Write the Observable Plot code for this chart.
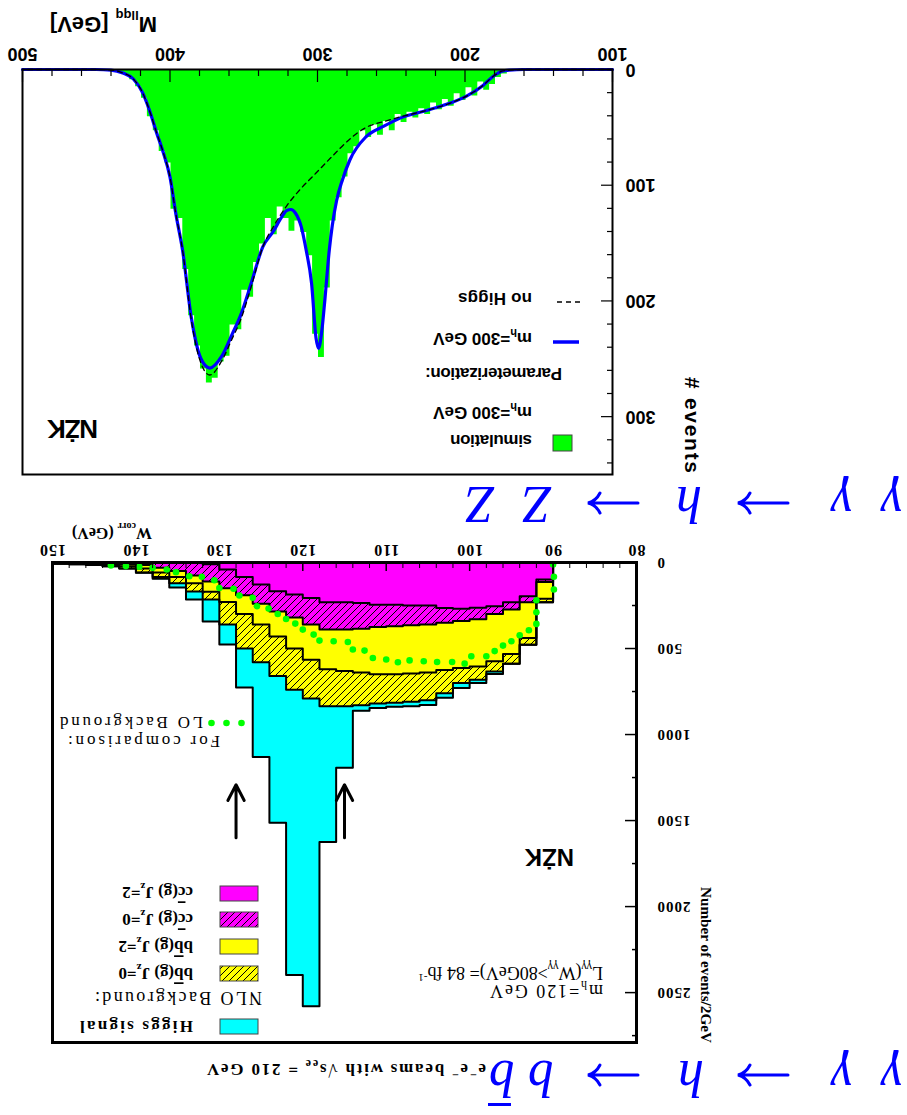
<!DOCTYPE html>
<html>
<head>
<meta charset="utf-8">
<script src="https://cdn.jsdelivr.net/npm/d3@7"></script>
<script src="https://cdn.jsdelivr.net/npm/@observablehq/plot@0.6"></script>
<style>
html,body{margin:0;padding:0;background:#fff;}
#root{position:relative;width:907px;height:1115px;overflow:hidden;background:#fff;transform:rotate(180deg);transform-origin:453.5px 557.5px;}
.panel{position:absolute;left:0;}
#ov{position:absolute;left:0;top:0;}
</style>
</head>
<body>
<div id="root">
  <div id="bb" class="panel" style="top:0px"></div>
  <div id="zz" class="panel" style="top:580px"></div>
  <svg id="ov" width="907" height="1115">
    <defs>
      <pattern id="hatchM" patternUnits="userSpaceOnUse" width="7" height="7">
        <rect width="7" height="7" fill="#ff00ff"/>
        <path d="M0,7 L7,0 M-1,1 L1,-1 M6,8 L8,6" stroke="#000" stroke-width="1"/>
      </pattern>
      <pattern id="hatchY" patternUnits="userSpaceOnUse" width="7" height="7">
        <rect width="7" height="7" fill="#ffff00"/>
        <path d="M0,7 L7,0 M-1,1 L1,-1 M6,8 L8,6" stroke="#000" stroke-width="1"/>
      </pattern>
    </defs>
    <!-- process titles -->
    <g fill="#0000ff" font-family="Liberation Serif" font-style="italic" font-size="52">
      <text x="5" y="54">γ</text><text x="55" y="54">γ</text>
      <text x="203" y="54">h</text>
      <text x="353" y="54">b</text><text x="392" y="54">b</text>
      <text x="5" y="628">γ</text><text x="55" y="628">γ</text>
      <text x="205" y="628">h</text>
      <text x="355" y="628">Z</text><text x="412" y="628">Z</text>
    </g>
    <rect x="396" y="9" width="23" height="3" fill="#0000ff"/>
    <g stroke="#0000ff" stroke-width="3" fill="none" stroke-linecap="round">
      <path d="M119,40 H168 M157,30 Q161,38 169,40 Q161,42 157,50"/>
      <path d="M269,40 H318 M307,30 Q311,38 319,40 Q311,42 307,50"/>
      <path d="M119,612 H168 M157,602 Q161,610 169,612 Q161,614 157,622"/>
      <path d="M269,612 H318 M307,602 Q311,610 319,612 Q311,614 307,622"/>
    </g>
    <!-- bb panel texts -->
    <g font-family="Liberation Serif" fill="#000">
      <text x="421" y="51" font-weight="bold" font-size="17" textLength="279" lengthAdjust="spacing">e<tspan dy="-7" font-size="12">−</tspan><tspan dy="7">e</tspan><tspan dy="-7" font-size="12">−</tspan><tspan dy="7"> beams with √s</tspan><tspan dy="4" font-size="12">ee</tspan><tspan dy="-4"> = 210 GeV</tspan></text>
      <text x="755" y="587" font-weight="bold" font-size="16">W<tspan dy="5" font-size="10">corr</tspan><tspan dy="-5"> (GeV)</tspan></text>
      <text transform="translate(206,72) rotate(-90)" text-anchor="end" font-weight="bold" font-size="15" textLength="156" lengthAdjust="spacingAndGlyphs">Number of events/2GeV</text>
      <text x="304" y="130" font-size="18" textLength="113">m<tspan dy="4" font-size="12">h</tspan><tspan dy="-4">=120 GeV</tspan></text>
      <text x="304" y="148" font-size="18">L<tspan dy="4" font-size="12">γγ</tspan><tspan dy="-4">(W</tspan><tspan dy="4" font-size="12">γγ</tspan><tspan dy="-4">&gt;80GeV)= 84 fb</tspan><tspan dy="-7" font-size="11">-1</tspan></text>
      <text x="687" y="379" font-size="17" textLength="152">For comparison:</text>
      <text x="704" y="398" font-size="17" textLength="143">LO Background</text>
      <text x="645" y="123" font-size="18" textLength="167">NLO Background:</text>
      <g font-weight="bold" font-size="17">
        <text x="714" y="94" textLength="113">Higgs signal</text>
        <text x="714" y="147">b<tspan text-decoration="overline">b</tspan>(g) J<tspan dy="4" font-size="11">z</tspan><tspan dy="-4">=0</tspan></text>
        <text x="714" y="174">b<tspan text-decoration="overline">b</tspan>(g) J<tspan dy="4" font-size="11">z</tspan><tspan dy="-4">=2</tspan></text>
        <text x="714" y="201">c<tspan text-decoration="overline">c</tspan>(g)  J<tspan dy="4" font-size="11">z</tspan><tspan dy="-4">=0</tspan></text>
        <text x="714" y="228">c<tspan text-decoration="overline">c</tspan>(g)  J<tspan dy="4" font-size="11">z</tspan><tspan dy="-4">=2</tspan></text>
      </g>
    </g>
    <g stroke="#444" stroke-width="1">
      <rect x="649" y="81" width="38" height="15" fill="#00ffff"/>
      <rect x="649" y="134" width="38" height="15" fill="url(#hatchY)"/>
      <rect x="649" y="161" width="38" height="15" fill="#ffff00"/>
      <rect x="649" y="188" width="38" height="15" fill="url(#hatchM)"/>
      <rect x="649" y="214" width="38" height="15" fill="#ff00ff"/>
    </g>
    <g fill="#00ff00">
      <circle cx="665.5" cy="392" r="3.3"/><circle cx="680.5" cy="392" r="3.3"/><circle cx="695.5" cy="392" r="3.3"/>
    </g>
    <text x="333" y="266" font-family="Liberation Sans" font-weight="bold" font-size="24">NŻK</text>
    <!-- ZZ panel texts -->
    <g font-family="Liberation Sans" font-weight="bold" fill="#000">
      <text transform="translate(222,642) rotate(-90)" text-anchor="end" font-size="21" textLength="96">#  events</text>
      <text x="750" y="1098" font-size="22">M<tspan dy="6" font-size="13">llqq</tspan><tspan dy="-6" dx="7">[GeV]</tspan></text>
      <text x="809" y="695" font-size="26" textLength="51">NŻK</text>
      <g font-size="17">
        <text x="375" y="680" textLength="82">simulation</text>
        <text x="375" y="708">m<tspan dy="4" font-size="11">h</tspan><tspan dy="-4">=300 GeV</tspan></text>
        <text x="345" y="747" textLength="137">Parameterization:</text>
        <text x="375" y="782">m<tspan dy="4" font-size="11">h</tspan><tspan dy="-4">=300 GeV</tspan></text>
        <text x="375" y="822" textLength="74">no Higgs</text>
      </g>
    </g>
    <rect x="335" y="664" width="19" height="16" fill="#00ff00" stroke="#444" stroke-width="1"/>
    <line x1="328" x2="354" y1="773" y2="773" stroke="#0000ff" stroke-width="3.5"/>
    <line x1="327" x2="354" y1="813" y2="813" stroke="#000" stroke-width="1.5" stroke-dasharray="5,4"/>
  </svg>
</div>
<script>
// ================= Panel 1 : γγ → h → b b̄  (W_corr histogram, 2 GeV bins) =================
const bbBinLeft = [90,92,94,96,98,100,102,104,106,108,110,112,114,116,118,120,122,124,126,128,130,132,134,136,138,140,142,144,146,148];
const bbBinWidth = 2;
const ccJz2 = [99,196,231,254,263,269,265,250,250,245,245,235,231,231,206,186,167,128,85,40,10,0,0,0,0,0,0,0,0,0];
const ccJz0 = [15,35,42,46,67,71,85,110,115,125,130,150,159,159,155,134,118,112,105,110,100,75,50,31,15,10,6,4,3,2];
const bbJz2 = [97,208,259,274,274,273,275,280,280,280,275,255,240,230,204,180,145,120,110,80,60,45,35,27,20,12,8,5,3,2];
const bbJz0 = [20,39,56,59,77,87,135,160,165,165,170,190,206,216,225,240,230,220,200,130,45,49,35,27,23,13,8,6,4,3];
const higgs = [0,0,0,15,19,29,26,28,25,24,26,32,357,788,1790,1658,853,550,227,117,128,46,25,10,2,0,0,0,0,0];
const bbXTicks = [80,90,100,110,120,130,140,150];
const bbXMinor = [82,84,86,88,92,94,96,98,102,104,106,108,112,114,116,118,122,124,126,128,132,134,136,138,142,144,146,148];
const bbYTicks = [0,500,1000,1500,2000,2500];
const bbYMinor = [250,750,1250,1750,2250,2750];
// LO background (dotted)
const loW = [90.0,89.9,89.9,92.0,92.0,92.0,92.9,94.0,95.0,96.0,97.0,98.0,99.8,100.6,102.1,103.9,105.5,107.2,108.6,110.0,111.6,112.6,114.0,114.6,116.3,118.0,118.7,120.0,120.9,122.0,123.0,124.1,125.5,126.0,127.6,128.3,130.0,130.6,132.1,133.6,135.2,136.3,138.0,139.6,141.2,143.0];
const loN = [12,83,157,219,289,357,394,423,458,483,515,545,545,588,578,578,574,569,580,564,555,512,506,462,458,454,419,390,355,328,299,268,254,205,192,153,148,103,83,80,56,41,31,25,21,17];
// mass window arrows
const windowW = [115, 128];
const arrowFrom = 1600, arrowTo = 1292;

// ================= Panel 2 : γγ → h → ZZ =================
const zzBinLeft = [168,172,176,180,184,188,192,196,200,204,208,212,216,220,224,228,232,236,240,244,248,252,256,260,264,268,272,276,280,284,288,292,296,300,304,308,312,316,320,324,328,332,336,340,344,348,352,356,360,364,368,372,376,380,384,388,392,396,400,404,408,412,416,420,424,428,432,436];
const zzBinWidth = 4;
const zzSim = [0,3,6,12,17,10,22,15,26,20,31,25,34,28,38,33,41,36,45,38,52,44,56,47,58,52,66,72,92,110,130,188,248,228,160,140,130,139,128,118,142,128,150,166,196,190,224,220,247,252,266,270,258,238,212,172,128,120,80,70,52,40,24,14,8,4,2,0];
const fitM = [100,160,170,175,181,188,199,210,225,244,255,267,278,283,287,290,292,295,297,299.3,301,304,307.7,311,315,318,321,324,330,337,345,352,357.6,365,373,379,385.6,391.5,396,400,405,409,414,418.6,425,432,440,450,500];
const fitN = [0,0,0.5,1.5,6,14,23,29,35,42,49,58,78,95,113,135,156,199,225,241,232,185,156,136,124,121,122,127,140,153,185,212,228,248,258,250,214,156,125,93,70,55,35,20,8,3,0.5,0,0];
const noHiggsM = [100,160,170,175,181,188,199,210,225,244,255,267,278,290,301,312,321,330,337,345,352,358,365,373,379,385.6,391.5,396,400,405,409,414,418.6,425,432,440,450,500];
const noHiggsN = [0,0,0.5,1.5,6,14,23,29,35,41,45,50,60,75,89.5,104,118,136,153,188,216,233,252,264,254,216,156,125,93,70,55,35,20,8,3,0.5,0,0];
const zzXTicks = [100,200,300,400,500];
const zzXMinor = [120,140,160,180,220,240,260,280,320,340,360,380,420,440,460,480];
const zzYTicks = [0,100,200,300];
const zzYMinor = [20,40,60,80,120,140,160,180,220,240,260,280,320,340];

const intFmt = d3.format("d");

// ---------- build panel 1 ----------
const PH_M = "#fe01fe", PH_Y = "#fefe01"; // placeholders replaced by hatch patterns
const layers = [
  {vals: ccJz2, fill: "#ff00ff"},
  {vals: ccJz0, fill: PH_M},
  {vals: bbJz2, fill: "#ffff00"},
  {vals: bbJz0, fill: PH_Y},
  {vals: higgs, fill: "#00ffff"}
];
const cum = bbBinLeft.map(() => 0);
const areaMarks = [], lineMarks = [];
for (const L of layers) {
  const pts = [];
  bbBinLeft.forEach((x0, i) => {
    const lo = cum[i], hi = cum[i] + L.vals[i];
    pts.push({x: x0, y1: lo, y2: hi}, {x: x0 + bbBinWidth, y1: lo, y2: hi});
    cum[i] = hi;
  });
  areaMarks.push(Plot.areaY(pts, {x: "x", y1: "y1", y2: "y2", fill: L.fill}));
  const outline = [{x: pts[0].x, y2: 0}, ...pts, {x: pts[pts.length - 1].x, y2: 0}];
  lineMarks.push(Plot.line(outline, {x: "x", y: "y2", stroke: "black", strokeWidth: 2}));
}
const loData = loW.map((w, i) => ({w, n: loN[i]}));
const arrowData = windowW.map(w => ({w}));

const bbPlot = Plot.plot({
  width: 907, height: 610,
  marginLeft: 270, marginRight: 53, marginTop: 72, marginBottom: 58,
  x: {domain: [80, 150], label: null},
  y: {domain: [0, 2790], label: null},
  style: {fontFamily: "Liberation Serif", fontWeight: "bold", fontSize: "15px", letterSpacing: "1px", color: "black", background: "transparent", overflow: "visible"},
  marks: [
    ...areaMarks,
    ...lineMarks,
    Plot.dot(loData, {x: "w", y: "n", r: 3.3, fill: "#00ff00"}),
    Plot.arrow(arrowData, {x1: "w", x2: "w", y1: () => arrowFrom, y2: () => arrowTo, stroke: "black", strokeWidth: 3, headLength: 13, headAngle: 55}),
    Plot.frame({stroke: "black", strokeWidth: 3}),
    Plot.axisX(bbXTicks, {tickSize: -8, fill: "none", strokeWidth: 1.5, label: null}),
    Plot.axisX(bbXMinor, {tickSize: -5, fill: "none", strokeWidth: 1, label: null}),
    Plot.axisX(bbXTicks, {tickSize: 0, tickPadding: 6, label: null, tickFormat: intFmt, fontSize: 16}),
    Plot.axisY(bbYTicks, {tickSize: -12, fill: "none", strokeWidth: 1.5, label: null}),
    Plot.axisY(bbYMinor, {tickSize: -5, fill: "none", strokeWidth: 1.5, label: null}),
    Plot.axisY(bbYTicks, {tickSize: 0, tickPadding: 20, label: null, tickFormat: intFmt})
  ]
});
bbPlot.querySelectorAll(`[fill="${PH_M}"]`).forEach(el => el.setAttribute("fill", "url(#hatchM)"));
bbPlot.querySelectorAll(`[fill="${PH_Y}"]`).forEach(el => el.setAttribute("fill", "url(#hatchY)"));
document.getElementById("bb").appendChild(bbPlot);

// ---------- build panel 2 ----------
const simPts = [];
zzBinLeft.forEach((x0, i) => {
  simPts.push({x: x0, y1: 0, y2: zzSim[i]}, {x: x0 + zzBinWidth, y1: 0, y2: zzSim[i]});
});
const fitData = fitM.map((m, i) => ({m, n: fitN[i]}));
const noHData = noHiggsM.map((m, i) => ({m, n: noHiggsN[i]}));

const zzPlot = Plot.plot({
  width: 907, height: 535,
  marginLeft: 294, marginRight: 23, marginTop: 60, marginBottom: 70,
  x: {domain: [100, 500], label: null},
  y: {domain: [0, 350], label: null},
  style: {fontFamily: "Liberation Sans", fontWeight: "bold", fontSize: "18px", color: "black", background: "transparent", overflow: "visible"},
  marks: [
    Plot.areaY(simPts, {x: "x", y1: "y1", y2: "y2", fill: "#00ff00"}),
    Plot.line(fitData, {x: "m", y: "n", stroke: "#0000ff", strokeWidth: 3.2, curve: "monotone-x"}),
    Plot.line(noHData, {x: "m", y: "n", stroke: "black", strokeWidth: 1.3, strokeDasharray: "5,4", curve: "monotone-x"}),
    Plot.frame({stroke: "black", strokeWidth: 2}),
    Plot.axisX(zzXTicks, {tickSize: -12, fill: "none", strokeWidth: 1.2, label: null}),
    Plot.axisX(zzXMinor, {tickSize: -6, fill: "none", strokeWidth: 1.2, label: null}),
    Plot.axisX(zzXTicks, {tickSize: 0, tickPadding: 9, label: null, tickFormat: intFmt}),
    Plot.axisY(zzYTicks, {tickSize: -12, fill: "none", strokeWidth: 1.2, label: null}),
    Plot.axisY(zzYMinor, {tickSize: -6, fill: "none", strokeWidth: 1.2, label: null}),
    Plot.axisY(zzYTicks, {tickSize: 0, tickPadding: 13, label: null, tickFormat: intFmt})
  ]
});
document.getElementById("zz").appendChild(zzPlot);
</script>
</body>
</html>
